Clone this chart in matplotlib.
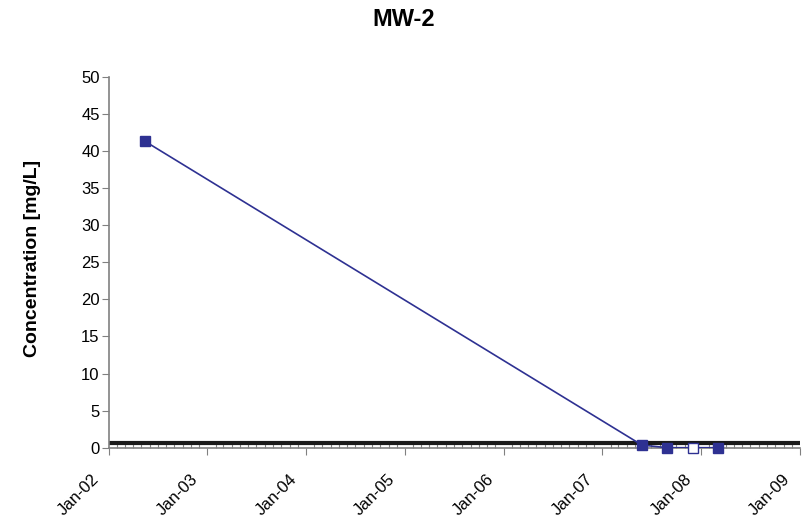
import matplotlib
matplotlib.use('Agg')
import matplotlib.pyplot as plt
import matplotlib.dates as mdates
import matplotlib.transforms as mtransforms
import numpy as np
from datetime import datetime

plt.rcParams['font.family'] = ['Liberation Sans', 'DejaVu Sans']

# sample results for MW-2
sample_dates = [datetime(2002, 5, 15), datetime(2007, 5, 27), datetime(2007, 8, 29),
                datetime(2007, 12, 1), datetime(2008, 3, 3)]
concentration = [41.3, 0.36, 0.0, 0.0, 0.0]
detected = [True, True, True, False, True]

standard_limit = 0.7
title = 'MW-2'
y_label = 'Concentration [mg/L]'

navy = '#2E3192'

fig = plt.figure(figsize=(8.03, 5.22), dpi=100)
ax = fig.add_axes([0.1354, 0.1423, 0.8609, 0.7107])

ax.axhline(standard_limit, color='#1a1a1a', lw=3, zorder=2)
ax.plot(sample_dates, concentration, color=navy, lw=1.2, zorder=3)

det_x = [d for d, k in zip(sample_dates, detected) if k]
det_y = [c for c, k in zip(concentration, detected) if k]
nd_x = [d for d, k in zip(sample_dates, detected) if not k]
nd_y = [c for c, k in zip(concentration, detected) if not k]
ax.plot(det_x, det_y, ls='none', marker='s', ms=6.5, color=navy, zorder=4, clip_on=False)
ax.plot(nd_x, nd_y, ls='none', marker='s', ms=6.5, mfc='white', mec=navy, mew=1, zorder=4, clip_on=False)

ax.set_xlim(datetime(2002, 1, 1), datetime(2009, 1, 1))
ax.set_ylim(0, 50)
ax.set_yticks(np.arange(0, 51, 5))

ax.xaxis.set_major_locator(mdates.YearLocator())
ax.xaxis.set_major_formatter(mdates.DateFormatter('Jan-%y'))
ax.xaxis.set_minor_locator(mdates.MonthLocator())

for s in ['top', 'right']:
    ax.spines[s].set_visible(False)
for s in ['left', 'bottom']:
    ax.spines[s].set_color('#808080')
    ax.spines[s].set_linewidth(1.2)

ax.tick_params(axis='y', direction='out', length=5, color='#808080', labelsize=12, pad=1.5)
ax.tick_params(axis='x', which='major', direction='out', length=5, color='#808080', labelsize=12, pad=2)
ax.tick_params(axis='x', which='minor', direction='in', length=5, color='#808080', width=0.8)

# rotated date labels sit down and to the left of their ticks
shift = mtransforms.ScaledTranslation(-0.12, -0.19, fig.dpi_scale_trans)
for lbl in ax.get_xticklabels():
    lbl.set_rotation(45)
    lbl.set_ha('right')
    lbl.set_va('center')
    lbl.set_rotation_mode('anchor')
    lbl.set_transform(lbl.get_transform() + shift)

ax.set_ylabel(y_label, fontsize=14, fontweight='bold')
ax.yaxis.set_label_coords(-0.098, 0.51)
fig.text(0.503, 0.962, title, ha='center', va='center', fontsize=17, fontweight='bold')

fig.savefig('out.png', dpi=100)
plt.close(fig)
